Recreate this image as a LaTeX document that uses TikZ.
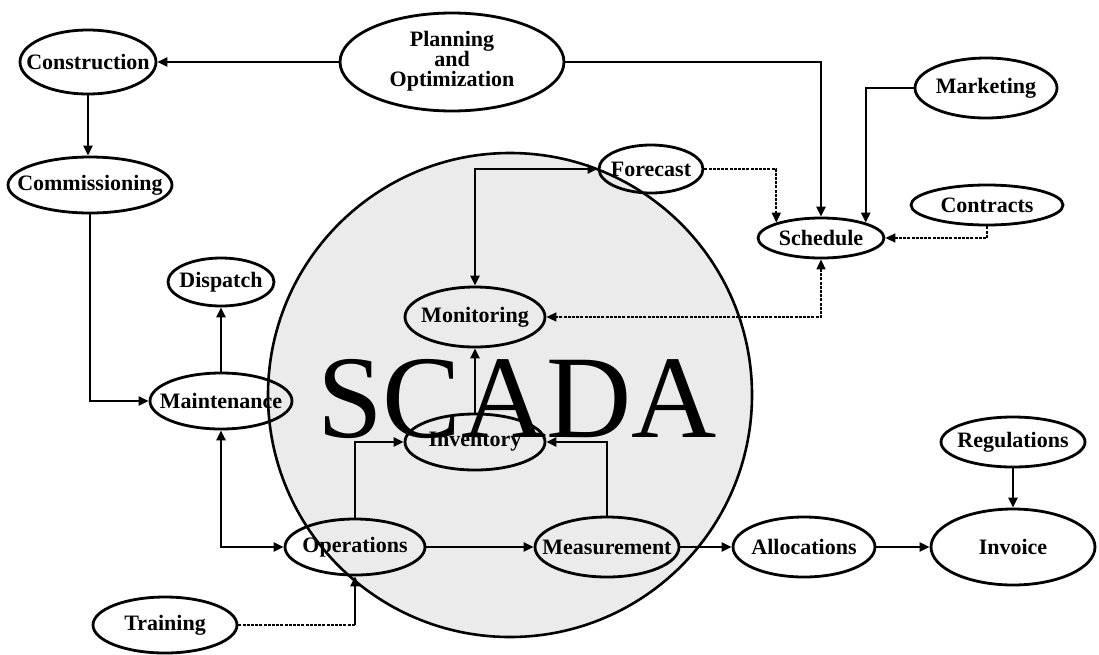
\documentclass[tikz,border=0pt]{standalone}
\usepackage{fontspec}
\setmainfont{Liberation Serif}
\usetikzlibrary{shapes.geometric,arrows.meta}
% label set in a zero-width box, so the ellipse keeps its given size
\newcommand\lbl[1]{\makebox[0pt][c]{#1}}
\begin{document}
\begin{tikzpicture}[x=1pt,y=-1pt,
  proc/.style={ellipse,draw,line width=2.8pt,inner sep=0pt,
    font=\bfseries\fontsize{22}{20}\selectfont},
  link/.style={line width=2.3pt},
  tip/.tip={Triangle[length=10pt,width=9pt]},
  arr/.style={link,-tip},
  darr/.style={link,tip-tip},
  faint/.style={line width=1.6pt,dash pattern=on 3pt off 1.2pt},
]
\useasboundingbox (0,0) rectangle (1099,654);

% shaded SCADA domain
\draw[line width=2.6pt,fill=black!8] (510,395) circle (242);

% processes
\node[proc,minimum width=136pt,minimum height=64pt] (cons)  at (88,62)    {\lbl{Construction}};
\node[proc,minimum width=224pt,minimum height=98pt] (plan)  at (452,62)
  {\lbl{\begin{tabular}{@{}c@{}}Planning\\[-1pt]and\\[-1pt]Optimization\end{tabular}}};
\node[proc,minimum width=164pt,minimum height=56pt] (comm)  at (90,185)   {\lbl{Commissioning}};
\node[proc,minimum width=106pt,minimum height=48pt] (disp)  at (221,282)  {\lbl{Dispatch}};
\node[proc,minimum width=142pt,minimum height=56pt] (maint) at (221,401)  {\lbl{Maintenance}};
\node[proc,minimum width=140pt,minimum height=60pt] (mon)   at (475,317)  {\lbl{Monitoring}};
\node[proc,minimum width=104pt,minimum height=48pt] (fore)  at (651,169)  {\lbl{Forecast}};
\node[proc,minimum width=126pt,minimum height=40pt] (sched) at (821,238)  {\lbl{Schedule}};
\node[proc,minimum width=142pt,minimum height=60pt] (mark)  at (986,88)   {\lbl{Marketing}};
\node[proc,minimum width=152pt,minimum height=40pt] (cont)  at (987,205)  {\lbl{Contracts}};
\node[proc,minimum width=140pt,minimum height=56pt] (inv)   at (475,442)  {\lbl{Inventory}};
\node[proc,minimum width=140pt,minimum height=56pt] (ops)   at (355,547)  {\lbl{Operations}};
\node[proc,minimum width=144pt,minimum height=60pt] (meas)  at (607,547)  {\lbl{Measurement}};
\node[proc,minimum width=142pt,minimum height=60pt] (alloc) at (804,547)  {\lbl{Allocations}};
\node[proc,minimum width=164pt,minimum height=76pt] (invc)  at (1013,547) {\lbl{Invoice}};
\node[proc,minimum width=144pt,minimum height=50pt] (reg)   at (1013,442) {\lbl{Regulations}};
\node[proc,minimum width=144pt,minimum height=56pt] (train) at (165,625)  {\lbl{Training}};

% flows
\draw[arr] (plan.west) -- (cons.east);
\draw[arr] (cons.south) -- (cons.south |- comm.north);
\draw[arr] (comm.south) |- (maint.west);
\draw[arr] (maint.north) -- (disp.south);
\draw[darr] (maint.south) |- (ops.west);
\draw[arr] (ops.north) |- (inv.west);
\draw[arr] (meas.north) |- (inv.east);
\draw[arr] (inv.north) -- (mon.south);
\draw[darr] (mon.north) |- (fore.west);
\draw[arr,faint] (fore.east) -| (sched.161);
\draw[arr] (plan.east) -| (sched.north);
\draw[arr] (mark.west) -| (sched.19);
\draw[arr,faint] (cont.south) |- (sched.east);
\draw[darr,faint] (sched.south) |- (mon.east);
\draw[arr] (ops.east) -- (meas.west);
\draw[arr] (meas.east) -- (alloc.west);
\draw[arr] (alloc.east) -- (invc.west);
\draw[arr] (reg.south) -- (invc.north);
\coordinate (tj) at (train.east -| ops.south);
\draw[faint] (train.east) -- (tj);
\draw[arr] (tj) -- (ops.south);

% title lettering
\node[anchor=base west,inner sep=0pt,font=\fontsize{118}{118}\selectfont] (scada) at (317,437) {SCADA};
\end{tikzpicture}
\end{document}
